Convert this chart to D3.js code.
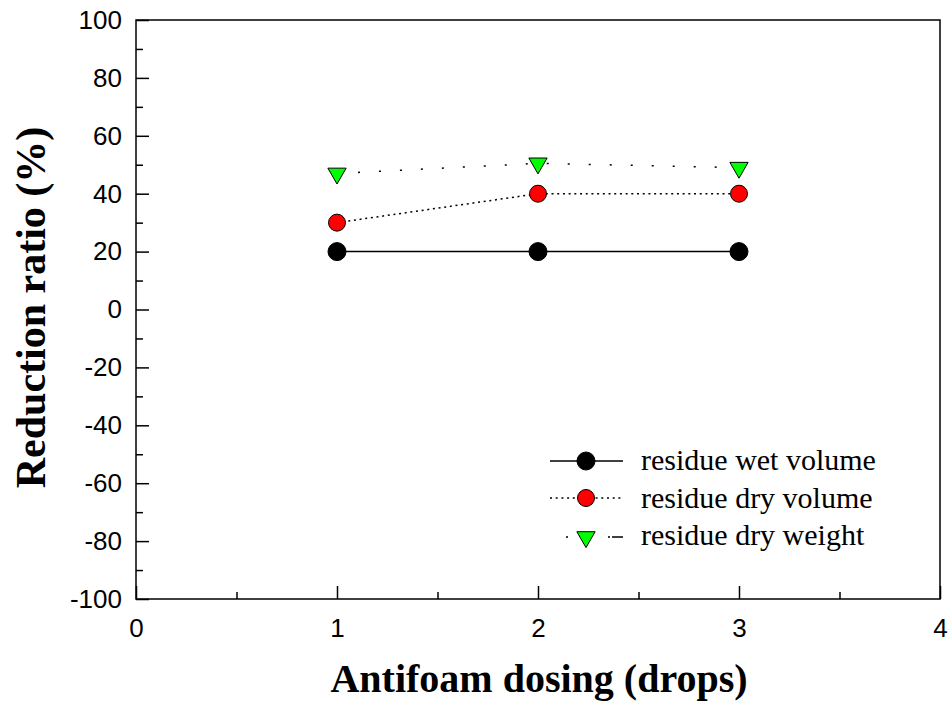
<!DOCTYPE html>
<html>
<head>
    <meta charset="UTF-8">
    <script src="https://d3js.org/d3.v7.min.js"></script>
    <style>
        body { margin: 0; background: #fff; }
        .tick-label { font-family: "Liberation Sans", Arial, sans-serif; font-size: 26px; }
        .axis-title { font-family: "Liberation Serif", "Times New Roman", serif; font-size: 40px; font-weight: bold; }
        .legend-text { font-family: "Liberation Serif", "Times New Roman", serif; font-size: 30px; }
    </style>
</head>
<body>
    <svg id="chart" width="952" height="706"></svg>
    <script>
        // data
        const dosing = [1, 2, 3];
        const wetVolume = [20, 20, 20];
        const dryVolume = [30, 40, 40];
        const dryWeight = [47, 50.5, 49];

        const xTicks = [0, 1, 2, 3, 4];
        const yTicks = [-100, -80, -60, -40, -20, 0, 20, 40, 60, 80, 100];

        const seriesNames = ["residue wet volume", "residue dry volume", "residue dry weight"];

        const width = 952, height = 706;
        const margin = { top: 20, right: 12, bottom: 107, left: 136 };

        const svg = d3.select("#chart");

        const x = d3.scaleLinear().domain([0, 4]).range([margin.left, width - margin.right]);
        const y = d3.scaleLinear().domain([-100, 100]).range([height - margin.bottom, margin.top]);

        // frame
        svg.append("rect")
            .attr("x", x(0)).attr("y", y(100))
            .attr("width", x(4) - x(0)).attr("height", y(-100) - y(100))
            .attr("fill", "none").attr("stroke", "#000").attr("stroke-width", 1.5);

        // ticks pointing inward: major 13px, minor 7px
        const xMinor = d3.range(0.5, 4, 1);
        const yMinor = d3.range(-90, 100, 20);
        const plain = d => String(d); // hyphen minus like the original

        svg.append("g")
            .attr("transform", `translate(0,${y(-100)})`)
            .call(d3.axisBottom(x).tickValues(xTicks).tickSize(-13).tickPadding(20).tickFormat(plain))
            .call(g => g.select(".domain").remove())
            .call(g => g.selectAll(".tick line").attr("stroke-width", 1.5))
            .call(g => g.selectAll(".tick text").attr("class", "tick-label").attr("fill", "#000"));

        svg.append("g")
            .attr("transform", `translate(0,${y(-100)})`)
            .call(d3.axisBottom(x).tickValues(xMinor).tickSize(-7).tickFormat(""))
            .call(g => g.select(".domain").remove())
            .call(g => g.selectAll(".tick line").attr("stroke-width", 1.5));

        svg.append("g")
            .attr("transform", `translate(${x(0)},0)`)
            .call(d3.axisLeft(y).tickValues(yTicks).tickSize(-13).tickPadding(14).tickFormat(plain))
            .call(g => g.select(".domain").remove())
            .call(g => g.selectAll(".tick line").attr("stroke-width", 1.5))
            .call(g => g.selectAll(".tick text").attr("class", "tick-label").attr("fill", "#000"));

        svg.append("g")
            .attr("transform", `translate(${x(0)},0)`)
            .call(d3.axisLeft(y).tickValues(yMinor).tickSize(-7).tickFormat(""))
            .call(g => g.select(".domain").remove())
            .call(g => g.selectAll(".tick line").attr("stroke-width", 1.5));

        // axis titles
        svg.append("text")
            .attr("class", "axis-title")
            .attr("x", (x(0) + x(4)) / 2 + 1)
            .attr("y", 692)
            .attr("text-anchor", "middle")
            .text("Antifoam dosing (drops)");

        svg.append("text")
            .attr("class", "axis-title")
            .attr("transform", `translate(45,${y(0) - 2}) rotate(-90)`)
            .attr("text-anchor", "middle")
            .style("font-size", "42px")
            .text("Reduction ratio (%)");

        // series
        const line = d3.line().x(d => x(d[0])).y(d => y(d[1]));
        const pts = vals => dosing.map((d, i) => [d, vals[i]]);

        const styles = [
            { vals: wetVolume, dash: null, shape: "circle", fill: "#000", r: 9 },
            { vals: dryVolume, dash: "2,3.7", shape: "circle", fill: "#ff0000", r: 8.5 },
            { vals: dryWeight, dash: "2,19", shape: "triangle", fill: "#00ff00", r: 0 }
        ];

        const tri = d3.symbol().type(d3.symbolTriangle).size(145);

        function drawMarker(g, s, cx, cy) {
            if (s.shape === "circle") {
                g.append("circle").attr("cx", cx).attr("cy", cy).attr("r", s.r)
                    .attr("fill", s.fill).attr("stroke", "#000").attr("stroke-width", 1);
            } else {
                g.append("path").attr("d", tri)
                    .attr("transform", `translate(${cx},${cy}) rotate(180)`)
                    .attr("fill", s.fill).attr("stroke", "#000").attr("stroke-width", 1);
            }
        }

        styles.forEach(s => {
            svg.append("path")
                .datum(pts(s.vals))
                .attr("d", line)
                .attr("fill", "none")
                .attr("stroke", "#000")
                .attr("stroke-width", 1.5)
                .attr("stroke-dasharray", s.dash);
        });
        styles.slice().reverse().forEach(s => {
            const g = svg.append("g");
            pts(s.vals).forEach(p => drawMarker(g, s, x(p[0]), y(p[1])));
        });

        // legend
        const legendRows = [461, 498, 537];
        const legendBase = [470, 508, 545];
        const legendDash = [null, "2,3.7", "0,16,2,40,2,2,11"];
        const legend = svg.append("g");
        styles.forEach((s, i) => {
            legend.append("line")
                .attr("x1", 550).attr("x2", 623)
                .attr("y1", legendRows[i]).attr("y2", legendRows[i])
                .attr("stroke", "#000").attr("stroke-width", 1.5)
                .attr("stroke-dasharray", legendDash[i]);
            drawMarker(legend, s, 586, legendRows[i]);
            legend.append("text")
                .attr("class", "legend-text")
                .attr("x", 641)
                .attr("y", legendBase[i])
                .text(seriesNames[i]);
        });
    </script>
</body>
</html>
